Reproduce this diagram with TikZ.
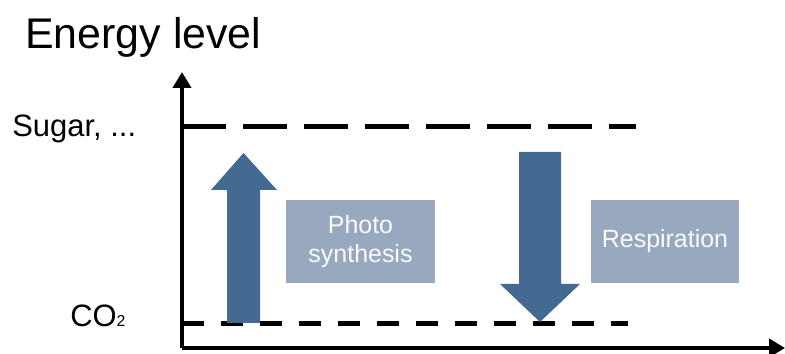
\documentclass[tikz,border=0pt]{standalone}
\usepackage{fontspec}
\setmainfont{Liberation Sans}
\usepackage{xcolor}
\usetikzlibrary{arrows.meta}

\definecolor{flowblue}{RGB}{68,106,146}
\definecolor{boxblue}{RGB}{152,168,190}

\begin{document}
\begin{tikzpicture}[>={Triangle[length=3.2mm,width=3.6mm]},
  axis/.style={line width=0.9mm,->},
  level/.style={line width=1mm,black},
  procbox/.style={rectangle,fill=boxblue,minimum width=2.97cm,minimum height=1.66cm,
    inner sep=0pt,align=center,text=white!95!boxblue,font=\fontsize{14.2}{16}\selectfont},
  lbl/.style={anchor=base west,inner sep=0pt,font=\fontsize{17.6}{20}\selectfont}]
  \useasboundingbox (0,0) rectangle (15.7,7.08);
  % axes
  \coordinate (o) at (3.64,0.12);
  \coordinate (ytop) at (3.64,5.64);
  \coordinate (xend) at (15.7,0.12);
  \draw[axis] (o) -- (ytop);
  \draw[axis] (o) -- (xend);
  \node[anchor=base west,inner sep=0pt,font=\fontsize{24.4}{28}\selectfont] (title) at (0.50,6.10) {Energy level};
  % energy levels
  \coordinate (hi0) at (3.64,4.54);
  \coordinate (hi1) at (12.72,4.54);
  \coordinate (lo0) at (3.64,0.60);
  \coordinate (lo1) at (12.56,0.60);
  \draw[level,dash pattern=on 8.8mm off 3.4mm] (hi0) -- (hi1);
  \draw[level,dash pattern=on 4.4mm off 3.4mm] (lo0) -- (lo1);
  \node[lbl] (sugar) at (0.24,4.34) {Sugar, ...};
  \node[lbl] (co2) at (1.40,0.54) {CO{\fontsize{9}{10}\selectfont 2}};
  % photosynthesis, upwards
  \fill[flowblue] (4.54,0.62) -- (5.20,0.62) -- (5.20,3.28) -- (5.54,3.28)
    -- (4.87,4.02) -- (4.22,3.28) -- (4.54,3.28) -- cycle;
  \node[procbox] (photo) at (7.21,2.25) {Photo\\synthesis};
  % respiration, downwards
  \fill[flowblue] (10.38,4.04) -- (11.22,4.04) -- (11.22,1.40) -- (11.60,1.40)
    -- (10.80,0.64) -- (10.00,1.40) -- (10.38,1.40) -- cycle;
  \node[procbox] (resp) at (13.30,2.25) {Respiration};
\end{tikzpicture}
\end{document}
